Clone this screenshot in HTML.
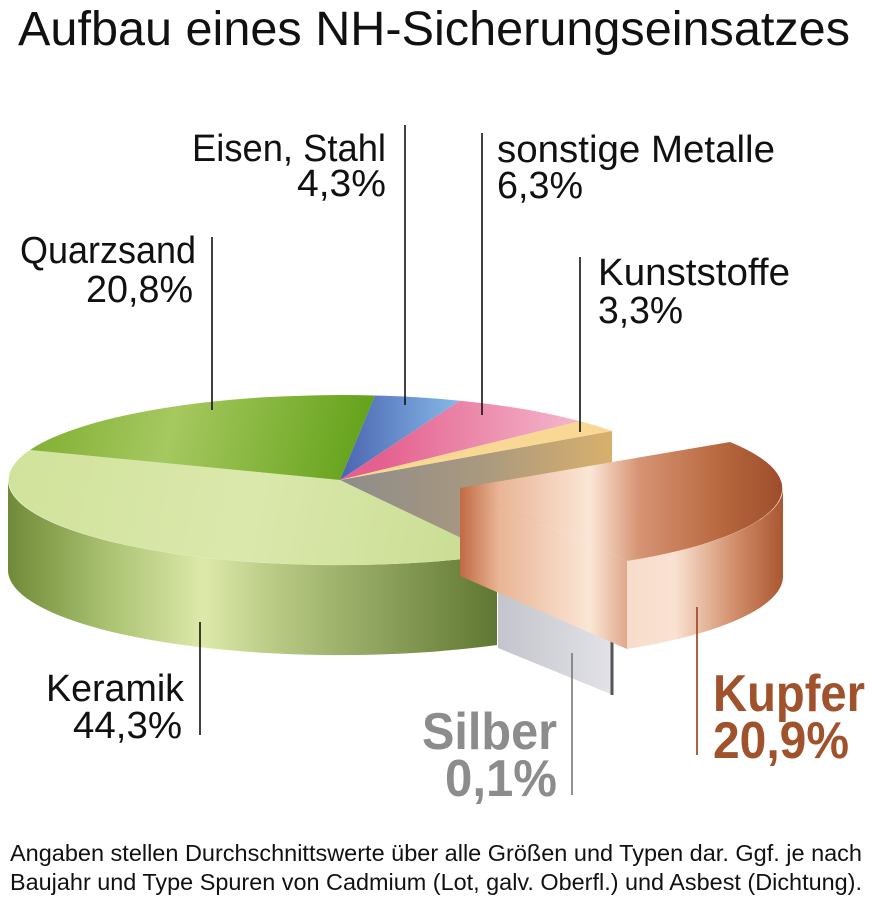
<!DOCTYPE html>
<html><head><meta charset="utf-8"><style>
html,body{margin:0;padding:0;background:#fff}
svg{display:block}
text{font-family:"Liberation Sans",sans-serif}
</style></head><body>
<svg width="872" height="900" viewBox="0 0 872 900" xmlns="http://www.w3.org/2000/svg">
<defs>
<linearGradient id="kside" x1="8" y1="0" x2="497" y2="0" gradientUnits="userSpaceOnUse">
<stop offset="0" stop-color="#6f8a38"/><stop offset="0.2" stop-color="#a9c170"/><stop offset="0.4" stop-color="#dde9aa"/><stop offset="0.55" stop-color="#b7c983"/><stop offset="1" stop-color="#5f7732"/>
</linearGradient>
<linearGradient id="ktop" x1="0" y1="450" x2="500" y2="560" gradientUnits="userSpaceOnUse">
<stop offset="0" stop-color="#d0e29a"/><stop offset="0.5" stop-color="#dbe8ac"/><stop offset="1" stop-color="#c8dc90"/>
</linearGradient>
<linearGradient id="qtop" x1="30" y1="400" x2="380" y2="480" gradientUnits="userSpaceOnUse">
<stop offset="0" stop-color="#7eae30"/><stop offset="0.4" stop-color="#a6c860"/><stop offset="1" stop-color="#5d9e12"/>
</linearGradient>
<linearGradient id="etop" x1="340" y1="0" x2="470" y2="0" gradientUnits="userSpaceOnUse">
<stop offset="0" stop-color="#4a64b0"/><stop offset="1" stop-color="#8cc0ec"/>
</linearGradient>
<linearGradient id="stop" x1="380" y1="0" x2="580" y2="0" gradientUnits="userSpaceOnUse">
<stop offset="0" stop-color="#e4608e"/><stop offset="1" stop-color="#f4b8cc"/>
</linearGradient>
<linearGradient id="cut" x1="340" y1="0" x2="612" y2="0" gradientUnits="userSpaceOnUse">
<stop offset="0" stop-color="#8e8c8a"/><stop offset="0.5" stop-color="#a89880"/><stop offset="1" stop-color="#d8b06c"/>
</linearGradient>
<linearGradient id="cu" x1="460" y1="0" x2="785" y2="0" gradientUnits="userSpaceOnUse">
<stop offset="0" stop-color="#c06a42"/><stop offset="0.12" stop-color="#e9b596"/><stop offset="0.4" stop-color="#fbe6d6"/><stop offset="0.55" stop-color="#d69474"/><stop offset="0.8" stop-color="#b8683e"/><stop offset="1" stop-color="#9c4c2a"/>
</linearGradient>
<linearGradient id="cuside" x1="627" y1="0" x2="785" y2="0" gradientUnits="userSpaceOnUse">
<stop offset="0" stop-color="#f6dccb"/><stop offset="0.3" stop-color="#fae2d2"/><stop offset="0.7" stop-color="#cf8a66"/><stop offset="1" stop-color="#a8552e"/>
</linearGradient>
<linearGradient id="ag" x1="498" y1="0" x2="613" y2="0" gradientUnits="userSpaceOnUse">
<stop offset="0" stop-color="#c4c4cc"/><stop offset="1" stop-color="#e2e2e8"/>
</linearGradient>
</defs>

<text x="18" y="45" font-size="48" textLength="832" lengthAdjust="spacingAndGlyphs" fill="#111">Aufbau eines NH-Sicherungseinsatzes</text>

<path d="M8,480 A332,85 0 0 0 497,555 L497,645 A332,85 0 0 1 8,570 Z" fill="url(#kside)"/>
<polygon points="340,480 612,431 612,465 497,560" fill="url(#cut)"/>
<path d="M340,480 L497,555 A332,85 0 0 1 30,450 Z" fill="url(#ktop)"/>
<path d="M340,480 L30,450 A332,85 0 0 1 375,395.5 Z" fill="url(#qtop)"/>
<path d="M340,480 L375,395.5 A332,85 0 0 1 460,400.7 Z" fill="url(#etop)"/>
<path d="M340,480 L460,400.7 A332,85 0 0 1 580,421.3 Z" fill="url(#stop)"/>
<path d="M340,480 L580,421.3 A332,85 0 0 1 612,431 Z" fill="#f9d893"/>

<polygon points="445,532 613,604 613,695 498,648 498,557" fill="url(#ag)"/>
<line x1="612" y1="605" x2="612" y2="695" stroke="#555" stroke-width="3"/>

<polygon points="460,488 627,561 627,649 460,576" fill="url(#cu)"/>
<path d="M627,561 A323,85 0 0 0 783,488 L783,576 A323,85 0 0 1 627,649 Z" fill="url(#cuside)"/>
<path d="M460,488 L730,442 A323,85 0 0 1 627,561 Z" fill="url(#cu)"/>

<g stroke="#111" stroke-width="1.6">
<line x1="405" y1="125" x2="405" y2="405"/>
<line x1="482" y1="133" x2="482" y2="415"/>
<line x1="212" y1="237" x2="212" y2="410"/>
<line x1="580" y1="257" x2="580" y2="432"/>
<line x1="200" y1="622" x2="200" y2="735"/>
</g>
<line x1="572" y1="653" x2="572" y2="795" stroke="#777" stroke-width="1.6"/>
<line x1="697" y1="607" x2="697" y2="755" stroke="#a0522d" stroke-width="1.8"/>

<g font-size="38" fill="#111">
<text x="192" y="161" textLength="194" lengthAdjust="spacingAndGlyphs">Eisen, Stahl</text>
<text x="297" y="196" textLength="89" lengthAdjust="spacingAndGlyphs">4,3%</text>
<text x="497" y="162" textLength="278" lengthAdjust="spacingAndGlyphs">sonstige Metalle</text>
<text x="497" y="198" textLength="86" lengthAdjust="spacingAndGlyphs">6,3%</text>
<text x="20" y="263" textLength="176" lengthAdjust="spacingAndGlyphs">Quarzsand</text>
<text x="86" y="302" textLength="107" lengthAdjust="spacingAndGlyphs">20,8%</text>
<text x="598" y="285" textLength="192" lengthAdjust="spacingAndGlyphs">Kunststoffe</text>
<text x="598" y="323" textLength="85" lengthAdjust="spacingAndGlyphs">3,3%</text>
<text x="46" y="701" textLength="138" lengthAdjust="spacingAndGlyphs">Keramik</text>
<text x="73" y="738" textLength="109" lengthAdjust="spacingAndGlyphs">44,3%</text>
</g>
<g font-size="52" font-weight="bold">
<text x="422" y="749" textLength="135" lengthAdjust="spacingAndGlyphs" fill="#8c8c8c">Silber</text>
<text x="445" y="796" textLength="112" lengthAdjust="spacingAndGlyphs" fill="#8c8c8c">0,1%</text>
<text x="713" y="711" textLength="152" lengthAdjust="spacingAndGlyphs" fill="#a0522d">Kupfer</text>
<text x="713" y="758" textLength="136" lengthAdjust="spacingAndGlyphs" fill="#a0522d">20,9%</text>
</g>
<g font-size="23" fill="#111">
<text x="10" y="861" textLength="852" lengthAdjust="spacingAndGlyphs">Angaben stellen Durchschnittswerte über alle Größen und Typen dar. Ggf. je nach</text>
<text x="10" y="890" textLength="852" lengthAdjust="spacingAndGlyphs">Baujahr und Type Spuren von Cadmium (Lot, galv. Oberfl.) und Asbest (Dichtung).</text>
</g>
</svg>
</body></html>
